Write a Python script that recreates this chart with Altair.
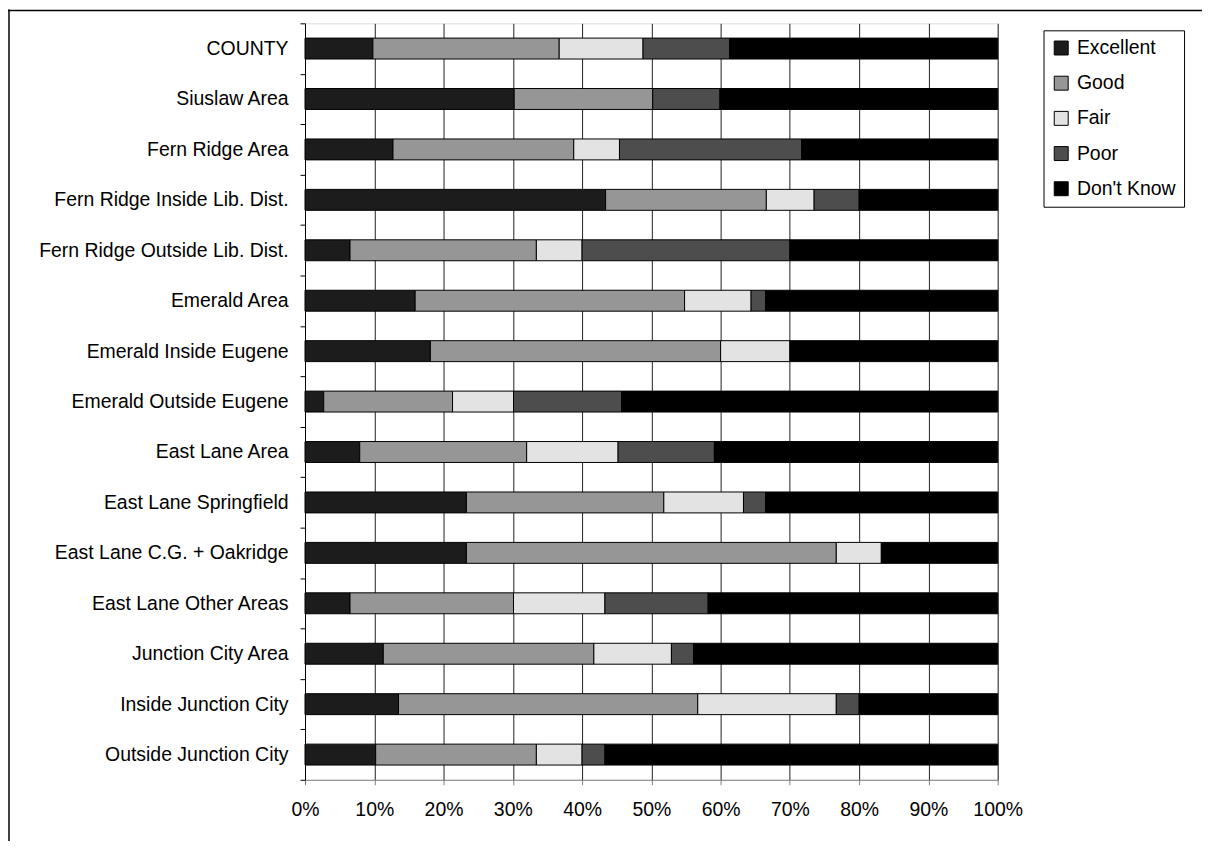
import altair as alt
import pandas as pd

categories = ["COUNTY", "Siuslaw  Area", "Fern Ridge Area", "Fern Ridge Inside Lib. Dist.",
              "Fern Ridge Outside Lib. Dist.", "Emerald Area", "Emerald Inside Eugene",
              "Emerald Outside Eugene", "East Lane Area", "East Lane Springfield",
              "East Lane C.G. + Oakridge", "East Lane Other Areas", "Junction City Area",
              "Inside Junction City", "Outside Junction City"]
ratings = ["Excellent", "Good", "Fair", "Poor", "Don't Know"]
colors = ["#1c1c1c", "#969696", "#e3e3e3", "#4d4d4d", "#000000"]

excellent = [9.8, 30.2, 12.7, 43.4, 6.5, 15.9, 18.1, 2.7, 7.9, 23.3, 23.3, 6.5, 11.3, 13.5, 10.2]
good = [26.9, 20.0, 26.1, 23.2, 26.9, 38.9, 41.9, 18.6, 24.1, 28.5, 53.4, 23.6, 30.4, 43.2, 23.2]
fair = [12.1, 0, 6.6, 6.9, 6.6, 9.6, 10.0, 8.8, 13.2, 11.5, 6.5, 13.2, 11.2, 20.0, 6.6]
poor = [12.5, 9.7, 26.3, 6.5, 30.0, 2.1, 0, 15.6, 13.9, 3.2, 0, 14.9, 3.2, 3.3, 3.3]
dont_know = [38.7, 40.1, 28.3, 20.0, 30.0, 33.5, 30.0, 54.3, 40.9, 33.5, 16.8, 41.8, 43.9, 20.0, 56.7]

x_ticks = [0, 10, 20, 30, 40, 50, 60, 70, 80, 90, 100]

series = [excellent, good, fair, poor, dont_know]
rows = []
for ri, (r, vals) in enumerate(zip(ratings, series)):
    for c, v in zip(categories, vals):
        if v > 0:
            rows.append({"area": c, "rating": r, "idx": ri, "pct": v})
df = pd.DataFrame(rows)

FONT = "Liberation Sans"

bars = alt.Chart(df).mark_bar(
    height=alt.RelativeBandSize(band=0.415), stroke="black", strokeWidth=1
).encode(
    y=alt.Y("area:N", sort=categories, title=None,
            scale=alt.Scale(paddingInner=0, paddingOuter=0),
            axis=alt.Axis(tickBand="extent", domainColor="black", tickColor="black",
                          tickSize=5, labelPadding=12, labelFontSize=19.5,
                          labelFont=FONT, labelColor="black", grid=False,
                          labelLimit=400)),
    x=alt.X("pct:Q", stack="zero", title=None,
            scale=alt.Scale(domain=[0, 100], nice=False),
            axis=alt.Axis(values=x_ticks, labelExpr="datum.value + '%'",
                          grid=True, gridColor="#222", gridWidth=1,
                          domainColor="#808080", tickColor="#808080", tickSize=5,
                          labelPadding=16, labelFontSize=19.5, labelFont=FONT,
                          labelColor="black", labelFlush=False, labelOverlap=False)),
    color=alt.Color("rating:N", scale=alt.Scale(domain=ratings, range=colors),
                    legend=alt.Legend(title=None, orient="none", legendX=741, legendY=7,
                                      symbolType="square", symbolSize=196,
                                      symbolStrokeColor="black", symbolStrokeWidth=1,
                                      labelFontSize=19.5, labelFont=FONT, labelColor="black",
                                      rowPadding=14.3, padding=8, labelOffset=6,
                                      strokeColor="black", fillColor="white",
                                      symbolOpacity=1)),
    order=alt.Order("idx:Q"),
)

frame_data = alt.Data(values=[{"k": 1}])
frame_left = alt.Chart(frame_data).mark_rule(color="black", strokeWidth=1.5).encode(
    x=alt.value(-297), y=alt.value(-14), y2=alt.value(840))
frame_top = alt.Chart(frame_data).mark_rule(color="black", strokeWidth=1.5).encode(
    x=alt.value(-298), x2=alt.value(910), y=alt.value(-13))

chart = alt.layer(bars, frame_left, frame_top).properties(
    width=695, height=759,
    autosize=alt.AutoSizeParams(type="none"),
    padding={"left": 298, "top": 14, "right": 205, "bottom": 60},
).configure_view(stroke="#808080", strokeWidth=1).configure(background="white")

chart.save("out.html", embed_options={"renderer": "svg", "actions": False})
